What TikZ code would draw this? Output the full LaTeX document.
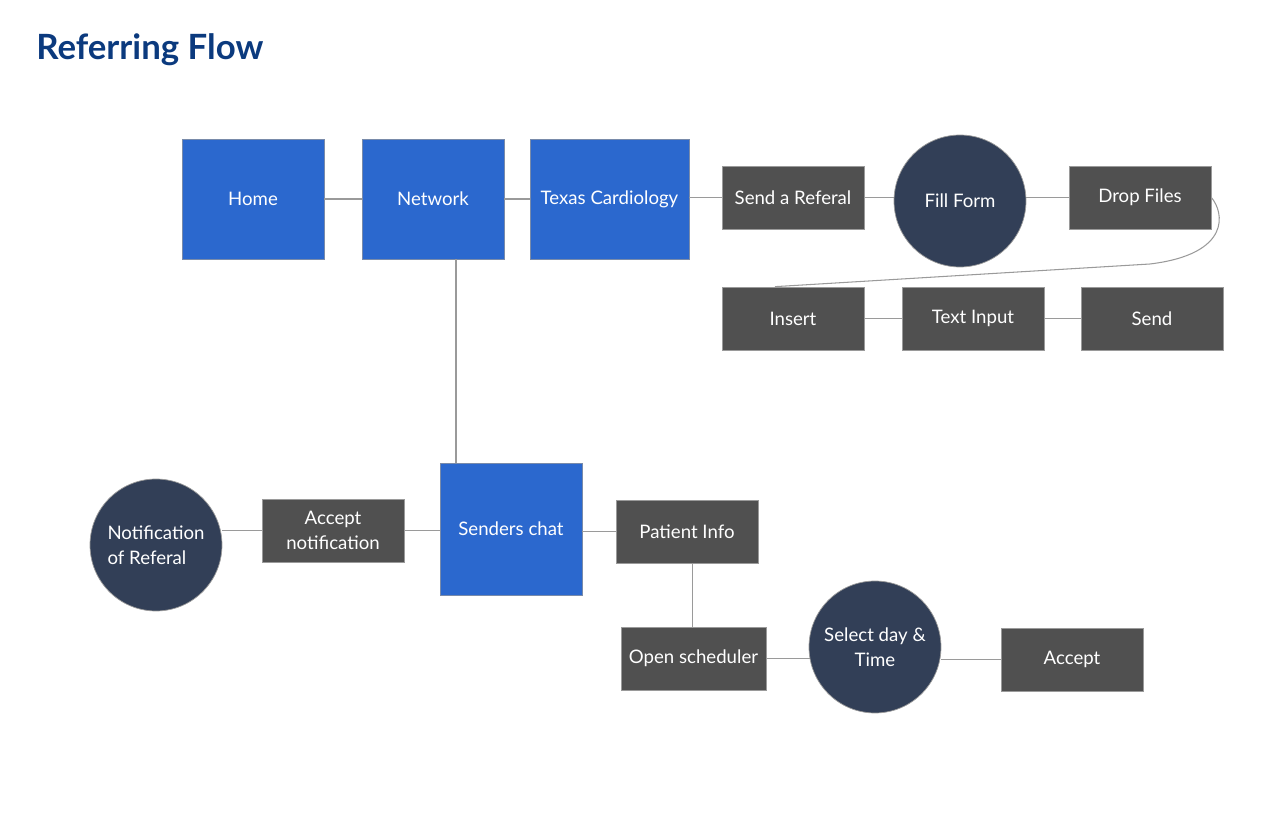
\documentclass[tikz,border=0pt]{standalone}
\usepackage{fontspec}
\setmainfont{Lato}
\definecolor{pageblue}{HTML}{2B68CE}
\definecolor{boxgray}{HTML}{505050}
\definecolor{nightblue}{HTML}{323F57}
\definecolor{titleblue}{HTML}{0B3A7E}
\definecolor{wire}{HTML}{9A9A9A}
\begin{document}
\begin{tikzpicture}[x=0.02cm,y=-0.02cm,
  page/.style={draw=wire!70!pageblue, fill=pageblue, text=white, minimum width=2.84cm, minimum height=2.4cm, inner sep=2pt},
  action/.style={draw=wire, fill=boxgray, text=white, minimum width=2.84cm, minimum height=1.26cm, inner sep=2pt, align=center},
  stage/.style={circle, draw=wire, fill=nightblue, text=white, minimum size=2.64cm, inner sep=1pt},
  link/.style={draw=wire, line width=0.6pt},
  font=\fontsize{10.6}{14}\selectfont]
\useasboundingbox (0,0) rectangle (1276,814);
% title
\node[anchor=base west, inner sep=0, text=titleblue, font=\fontsize{19.8}{22}\selectfont\bfseries] (title) at (36,60) {Referring Flow};
% top row
\node[page] (home) at (253,199) {Home};
\node[page] (network) at (433,199) {Network};
\node[page, minimum width=3.18cm] (texas) at (609.5,199) {Texas Cardiology};
\node[action] (sendref) at (793,197.5) {Send a Referal};
\node[stage] (fill) at (960,201) {Fill Form};
\node[action] (drop) at (1140,197.5) {Drop Files};
\node[action] (insert) at (793,318.5) {Insert};
\node[action] (textin) at (973,318.5) {Text Input};
\node[action] (send) at (1152,318.5) {Send};
% chat row
\node[page, minimum height=2.64cm] (chat) at (511,529) {Senders chat};
\node[action] (acceptnote) at (333,530.5) {Accept\\notification};
\node[stage, align=left] (notice) at (156,545) {Notification\\of Referal};
\node[action] (patient) at (687,531.5) {Patient Info};
\node[action, minimum width=2.9cm] (scheduler) at (693.5,658.5) {Open scheduler};
\node[stage, align=center] (select) at (875,647) {Select day \&\\Time};
\node[action] (accept) at (1072,659.5) {Accept};
% connectors
\draw[link] (home) -- (network);
\draw[link] (network) -- (texas);
\draw[link] (texas.east |- sendref.west) -- (sendref);
\draw[link] (sendref) -- (fill.west |- sendref.east);
\draw[link] (fill.east |- drop.west) -- (drop);
\draw[link] (drop.east) .. controls (1224,212) and (1232,254) .. (1150,264) -- ([xshift=-0.36cm]insert.north);
\draw[link] (insert) -- (textin);
\draw[link] (textin) -- (send);
\draw[link] ([xshift=0.46cm]network.south) -- ([xshift=0.46cm]network.south |- chat.north);
\draw[link] (notice.east |- acceptnote.west) -- (acceptnote);
\draw[link] (acceptnote) -- (chat.west |- acceptnote.east);
\draw[link] (chat.east |- patient.west) -- (patient);
\draw[link] ([xshift=3]patient.south) -- ([xshift=3]patient.south |- scheduler.north);
\draw[link] (scheduler.east) -- ([xshift=0.02cm]scheduler.east -| select.west);
\draw[link] (select.east |- accept.west) -- (accept);
\end{tikzpicture}
\end{document}
